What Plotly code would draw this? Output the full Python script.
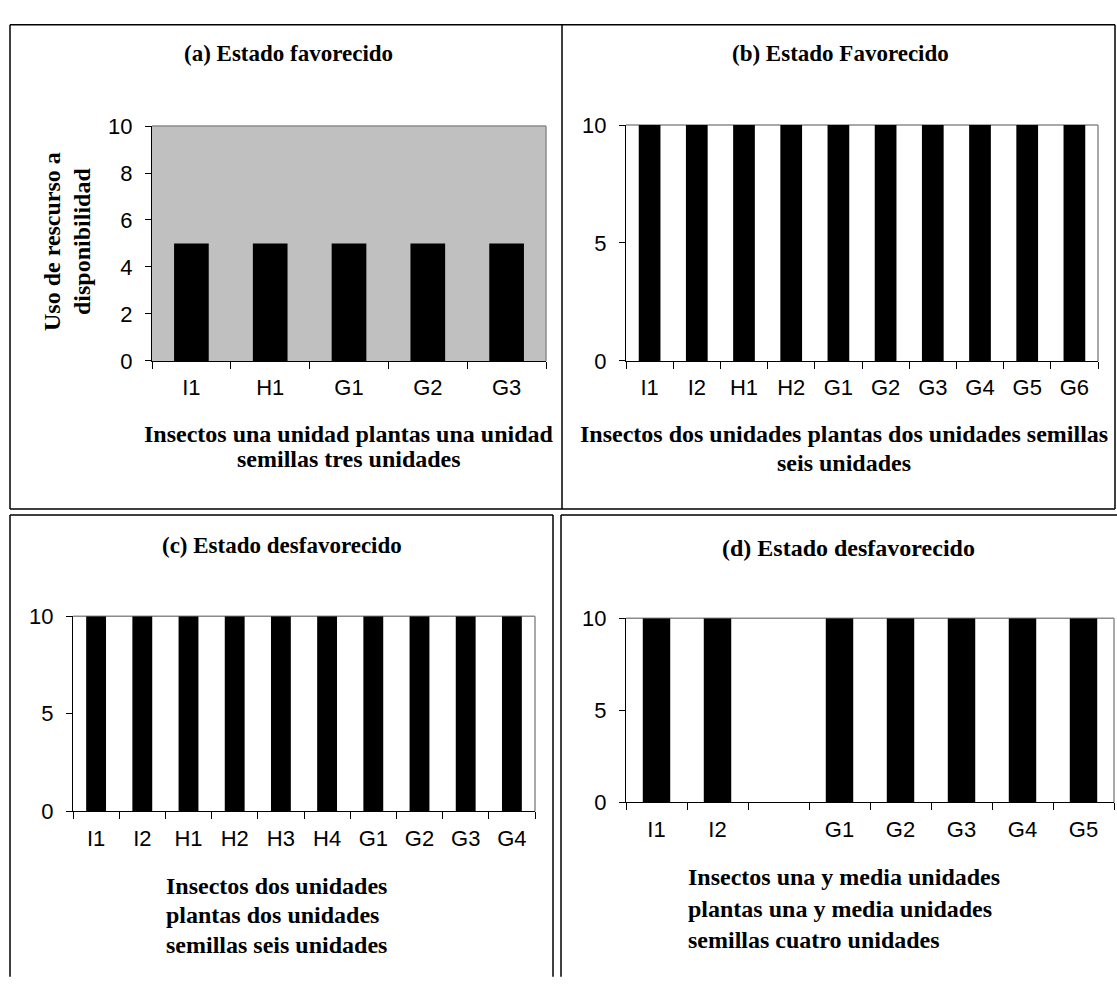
import plotly.graph_objects as go

# ---------------- data ----------------
cats_a = ["I1", "H1", "G1", "G2", "G3"]
vals_a = [5, 5, 5, 5, 5]

cats_b = ["I1", "I2", "H1", "H2", "G1", "G2", "G3", "G4", "G5", "G6"]
vals_b = [10, 10, 10, 10, 10, 10, 10, 10, 10, 10]

cats_c = ["I1", "I2", "H1", "H2", "H3", "H4", "G1", "G2", "G3", "G4"]
vals_c = [10, 10, 10, 10, 10, 10, 10, 10, 10, 10]

cats_d = ["I1", "I2", " ", "G1", "G2", "G3", "G4", "G5"]
vals_d = [10, 10, 0, 10, 10, 10, 10, 10]

titles = ["(a) Estado favorecido", "(b) Estado Favorecido",
          "(c) Estado desfavorecido", "(d) Estado desfavorecido"]
xtitle_a = ["Insectos una unidad plantas una unidad", "semillas tres unidades"]
xtitle_b = ["Insectos dos unidades plantas dos unidades semillas", "seis unidades"]
xtitle_c = ["Insectos dos unidades", "plantas dos unidades", "semillas seis unidades"]
xtitle_d = ["Insectos una y media unidades", "plantas una y media unidades",
            "semillas cuatro unidades"]
ytitle_a = ["Uso de rescurso a", "disponibilidad"]

W, H = 1117, 985


def px(x):
    return x / W


def py(y):
    return 1 - y / H


SERIF = "Liberation Serif, Times New Roman, serif"
SANS = "Liberation Sans, Arial, sans-serif"

fig = go.Figure()

panels = [
    # (cats, vals, x0, x1, ytop, ybot, dtick, barwidth, bg)
    (cats_a, vals_a, 152, 546, 117, 358, 2, 0.44, "#C0C0C0"),
    (cats_b, vals_b, 626, 1098, 116, 358, 5, 0.46, "white"),
    (cats_c, vals_c, 73, 535, 620, 820, 5, 0.43, "white"),
    (cats_d, vals_d, 626, 1114, 622, 811, 5, 0.45, "white"),
]

shapes = []
for i, (cats, vals, x0, x1, yt, yb, dt, bw, bg) in enumerate(panels):
    sfx = "" if i == 0 else str(i + 1)
    fig.add_trace(go.Bar(
        x=cats, y=vals, width=bw,
        marker=dict(color="black", line=dict(width=0)),
        xaxis="x" + sfx, yaxis="y" + sfx, showlegend=False,
        hoverinfo="x+y",
    ))
    fig.update_layout(**{
        "xaxis" + sfx: dict(
            domain=[px(x0), px(x1)], anchor="y" + sfx, type="category",
            showline=True, linecolor="black", linewidth=1,
            ticks="outside", tickson="boundaries", ticklen=7, tickcolor="black",
            tickwidth=1, showgrid=False, zeroline=False,
            tickfont=dict(family=SANS, size=22, color="black"),
            ticklabelstandoff=7, fixedrange=True,
        ),
        "yaxis" + sfx: dict(
            domain=[py(yb), py(yt)], anchor="x" + sfx, range=[0, 10],
            dtick=dt, tick0=0, showline=True, linecolor="black", linewidth=1,
            ticks="outside", ticklen=6, tickcolor="black", tickwidth=1,
            showgrid=False, zeroline=False,
            tickfont=dict(family=SANS, size=22, color="black"),
            ticklabelstandoff=8, fixedrange=True,
        ),
    })
    xr = "x" + sfx + " domain"
    yr = "y" + sfx + " domain"
    shapes.append(dict(type="rect", xref=xr, yref=yr, x0=0, x1=1, y0=0, y1=1,
                       fillcolor=bg, line=dict(width=0), layer="below"))
    shapes.append(dict(type="line", xref=xr, yref=yr, x0=0, x1=1, y0=1, y1=1,
                       line=dict(color="#8c8c8c", width=1.5), layer="below"))
    shapes.append(dict(type="line", xref=xr, yref=yr, x0=1, x1=1, y0=0, y1=1,
                       line=dict(color="#8c8c8c", width=1.5), layer="below"))

# panel borders
border_lines = [
    (10, 13, 1115, 13),     # top
    (10, 13, 10, 510),      # (a) left
    (562, 13, 562, 510),    # (a)/(b) divider
    (1115, 13, 1115, 510),  # (b) right
    (10, 510, 1115, 510),   # (a)/(b) bottom
    (10, 516, 553, 516),    # (c) top
    (10, 516, 10, 990),     # (c) left
    (553, 516, 553, 990),   # (c) right
    (561, 516, 1117, 516),  # (d) top
    (561, 516, 561, 990),   # (d) left
]
for (xa, ya, xb, yb) in border_lines:
    shapes.append(dict(type="line", xref="paper", yref="paper",
                       x0=px(xa), y0=py(ya), x1=px(xb), y1=py(yb),
                       line=dict(color="black", width=1.5)))

annotations = []


def add_text(text, x, y, xanchor="center", size=24, angle=0):
    annotations.append(dict(
        text="<b>" + text + "</b>", x=px(x), y=py(y), xref="paper", yref="paper",
        xanchor=xanchor, yanchor="middle", showarrow=False, textangle=angle,
        font=dict(family=SERIF, size=size, color="black"),
    ))


# panel titles
add_text(titles[0], 288, 43, size=23)
add_text(titles[1], 840, 43, size=23)
add_text(titles[2], 282, 547, size=23)
add_text(titles[3], 848, 550, size=24)

# x-axis titles
for t, y in zip(xtitle_a, [433, 459]):
    add_text(t, 349, y)
for t, y in zip(xtitle_b, [433, 463]):
    add_text(t, 844, y)
for t, y in zip(xtitle_c, [897, 927, 957]):
    add_text(t, 164, y, xanchor="left")
for t, y in zip(xtitle_d, [888, 920, 952]):
    add_text(t, 686, y, xanchor="left")

# y-axis title of panel (a)
add_text(ytitle_a[0], 52, 236, angle=-90)
add_text(ytitle_a[1], 82, 236, angle=-90)

fig.update_layout(
    width=W, height=H,
    margin=dict(l=0, r=0, t=0, b=0),
    paper_bgcolor="white", plot_bgcolor="white",
    shapes=shapes, annotations=annotations,
    bargap=0.5, showlegend=False,
)

fig.write_html(
    "out.html",
    config={"displayModeBar": False},
    post_script="document.body.style.margin='0';document.body.style.overflow='hidden';",
)
